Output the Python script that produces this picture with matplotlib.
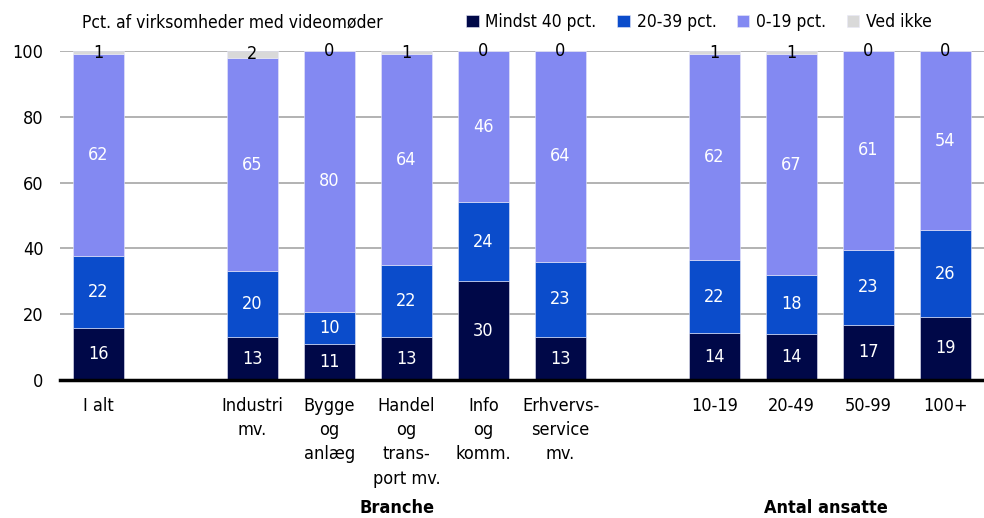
import matplotlib
matplotlib.use("Agg")
import matplotlib.pyplot as plt
import matplotlib.transforms as mtransforms
import numpy as np

plt.rcParams["font.family"] = ["DejaVu Sans"]
plt.rcParams["font.stretch"] = "condensed"

NAVY, BLUE, LAV, GREY = "#000848", "#0B4CCB", "#8389F2", "#D9D9D9"

categories = ["I alt", "Industri\nmv.", "Bygge\nog\nanlæg", "Handel\nog\ntrans-\nport mv.",
              "Info\nog\nkomm.", "Erhvervs-\nservice\nmv.", "10-19", "20-49", "50-99", "100+"]
positions = [0, 2, 3, 4, 5, 6, 8, 9, 10, 11]
mindst40 = [16, 13, 11, 13, 30, 13, 14, 14, 17, 19]
p20_39 = [22, 20, 10, 22, 24, 23, 22, 18, 23, 26]
p0_19 = [62, 65, 80, 64, 46, 64, 62, 67, 61, 54]
ved_ikke = [1, 2, 0, 1, 0, 0, 1, 1, 0, 0]

series = [("Mindst 40 pct.", mindst40, NAVY, "white"),
          ("20-39 pct.", p20_39, BLUE, "white"),
          ("0-19 pct.", p0_19, LAV, "white"),
          ("Ved ikke", ved_ikke, GREY, "black")]

fig = plt.figure(figsize=(9.84, 5.18), dpi=100)
ax = fig.add_axes([60 / 984, 138 / 518, 924 / 984, 329 / 518])

x = np.array(positions, dtype=float)
tot = np.sum([s[1] for s in series], axis=0).astype(float)
bottom = np.zeros(len(x))
for lab, vals, col, tc in series:
    h = np.array(vals) / tot * 100
    ax.bar(x, h, 0.67, bottom=bottom, color=col, edgecolor="#E8E8F8", lw=0.4,
           label=lab, zorder=2)
    for xi, bi, hi, v in zip(x, bottom, h, vals):
        ax.text(xi, bi + hi / 2, f"{v}", ha="center", va="center", color=tc,
                fontsize=13, zorder=3)
    bottom += h

ax.set_xlim(-0.5, 11.5)
ax.set_ylim(0, 100)
ax.set_yticks(range(0, 101, 20))
ax.yaxis.grid(True, color="#A6A6A6", lw=1.2, zorder=0)
ax.set_xticks(x)
ax.set_xticklabels(categories, fontsize=13, linespacing=1.45, va="top")
ax.tick_params(axis="x", length=0, pad=12)
ax.tick_params(axis="y", length=0, pad=12, labelsize=13)
for s in ("top", "right", "left"):
    ax.spines[s].set_visible(False)
ax.spines["bottom"].set_linewidth(2.5)
ax.spines["bottom"].set_zorder(4)

tr = mtransforms.blended_transform_factory(ax.transData, fig.transFigure)
ax.text(3.88, 10 / 518, "Branche", transform=tr, ha="center", va="center",
        fontsize=13, fontweight="bold")
ax.text(9.45, 10 / 518, "Antal ansatte", transform=tr, ha="center", va="center",
        fontsize=13, fontweight="bold")

fig.text(82 / 984, 1 - 22 / 518, "Pct. af virksomheder med videomøder",
         ha="left", va="center", fontsize=12.5)
ax.legend(loc="center right", bbox_to_anchor=(932 / 984, 1 - 22 / 518),
          bbox_transform=fig.transFigure, ncol=4, frameon=False, fontsize=12.5,
          handlelength=0.7, handleheight=0.7, handletextpad=0.4, columnspacing=1.2,
          borderpad=0, borderaxespad=0)

fig.savefig("out.png", dpi=100)
